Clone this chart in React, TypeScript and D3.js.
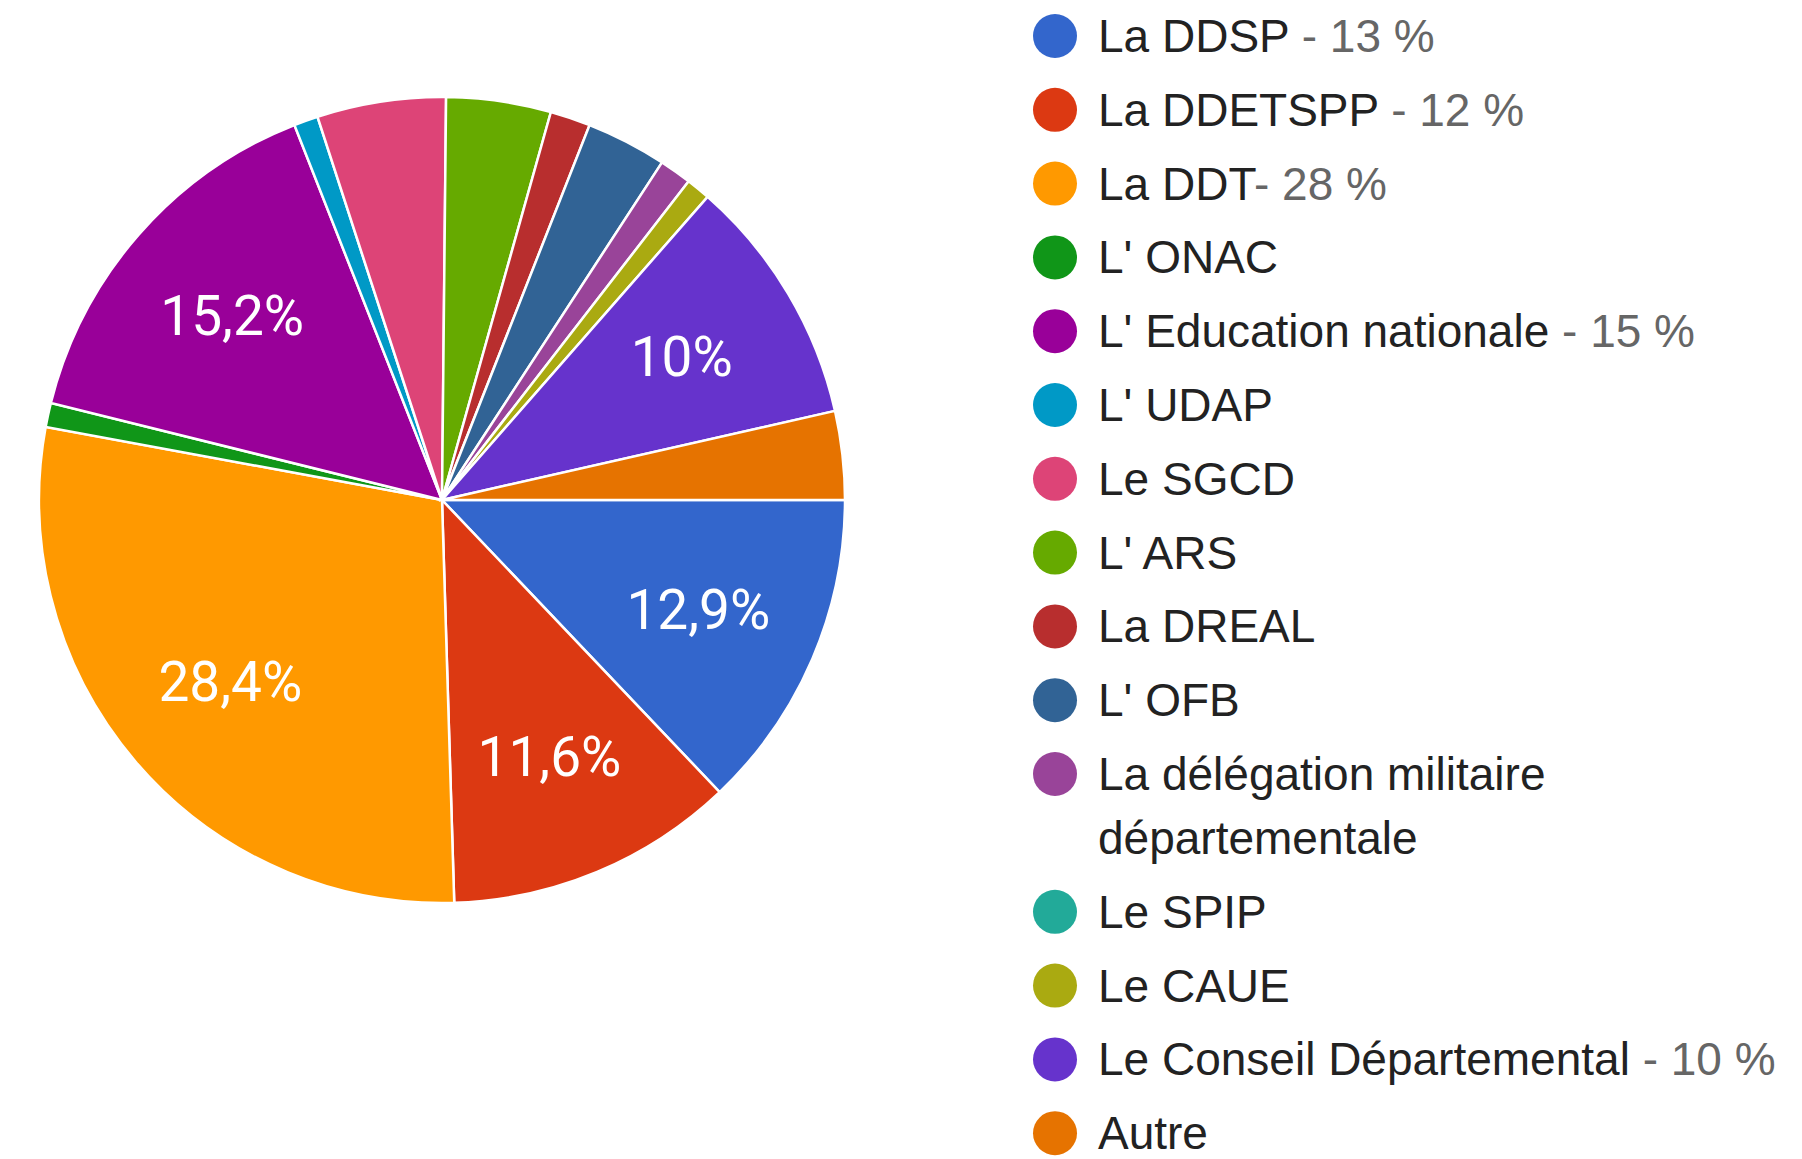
import React from "react";
import * as d3 from "d3";

const categories = [
  "La DDSP",
  "La DDETSPP",
  "La DDT",
  "L' ONAC",
  "L' Education nationale",
  "L' UDAP",
  "Le SGCD",
  "L' ARS",
  "La DREAL",
  "L' OFB",
  "La délégation militaire départementale",
  "Le SPIP",
  "Le CAUE",
  "Le Conseil Départemental",
  "Autre",
];

// response counts
const counts = [40, 36, 88, 3, 47, 3, 16, 13, 5, 10, 4, 0, 3, 31, 11];

const legendSuffixes = [" - 13 %", " - 12 %", "- 28 %", "", " - 15 %", "", "", "", "", "", "", "", "", " - 10 %", ""];

const legendLines = [
  ["La DDSP"],
  ["La DDETSPP"],
  ["La DDT"],
  ["L' ONAC"],
  ["L' Education nationale"],
  ["L' UDAP"],
  ["Le SGCD"],
  ["L' ARS"],
  ["La DREAL"],
  ["L' OFB"],
  ["La délégation militaire", "départementale"],
  ["Le SPIP"],
  ["Le CAUE"],
  ["Le Conseil Départemental"],
  ["Autre"],
];

const colors = [
  "#3366cc", "#dc3912", "#ff9900", "#109618", "#990099", "#0099c6", "#dd4477",
  "#66aa00", "#b82e2e", "#316395", "#994499", "#22aa99", "#aaaa11", "#6633cc", "#e67300",
];

const W = 1802;
const H = 1159;
const cx = 442;
const cy = 500;
const R = 403;
const labelR = 279;

export default function App() {
  const total = d3.sum(counts);
  const pie = d3
    .pie<number>()
    .sort(null)
    .value((d) => d)
    .startAngle(Math.PI / 2)
    .endAngle(Math.PI / 2 + 2 * Math.PI);
  const arcs = pie(counts);
  const arc = d3.arc<d3.PieArcDatum<number>>().innerRadius(0).outerRadius(R);
  const labelArc = d3.arc<d3.PieArcDatum<number>>().innerRadius(labelR).outerRadius(labelR);

  const fmt = (v: number) => {
    const s = d3.format(".1f")((v / total) * 100).replace(".", ",");
    return (s.endsWith(",0") ? s.slice(0, -2) : s) + "%";
  };

  // legend layout
  const rowPitch = 73.8;
  const wrapLine = 64;
  const legendY: number[] = [];
  let y = 36;
  legendLines.forEach((lines) => {
    legendY.push(y);
    y += rowPitch + (lines.length - 1) * wrapLine;
  });

  return (
    <svg
      width={W}
      height={H}
      style={{ position: "absolute", left: 0, top: 0, background: "#fff" }}
    >
      <g transform={`translate(${cx},${cy})`}>
        {arcs.map((a, i) =>
          a.value > 0 ? (
            <path key={i} d={arc(a) || ""} fill={colors[i]} stroke="#fff" strokeWidth={2.5} />
          ) : null
        )}
        {arcs.map((a, i) => {
          if (a.value / total < 0.09) return null;
          const [lx, ly] = labelArc.centroid(a);
          return (
            <text
              key={"l" + i}
              x={lx}
              y={ly}
              textAnchor="middle"
              dominantBaseline="central"
              fill="#fff"
              fontFamily="Roboto, Arial, sans-serif"
              fontSize={55}
            >
              {fmt(a.value)}
            </text>
          );
        })}
      </g>
      <g fontFamily="'Liberation Sans', Arial, sans-serif" fontSize={46}>
        {categories.map((c, i) => (
          <g key={c}>
            <circle cx={1055} cy={legendY[i]} r={22} fill={colors[i]} />
            {legendLines[i].map((line, j) => (
              <text
                key={j}
                x={1098}
                y={legendY[i] + j * wrapLine}
                dominantBaseline="central"
                fill="#222"
              >
                {line}
                {j === legendLines[i].length - 1 && legendSuffixes[i] ? (
                  <tspan fill="#666">{legendSuffixes[i]}</tspan>
                ) : null}
              </text>
            ))}
          </g>
        ))}
      </g>
    </svg>
  );
}
